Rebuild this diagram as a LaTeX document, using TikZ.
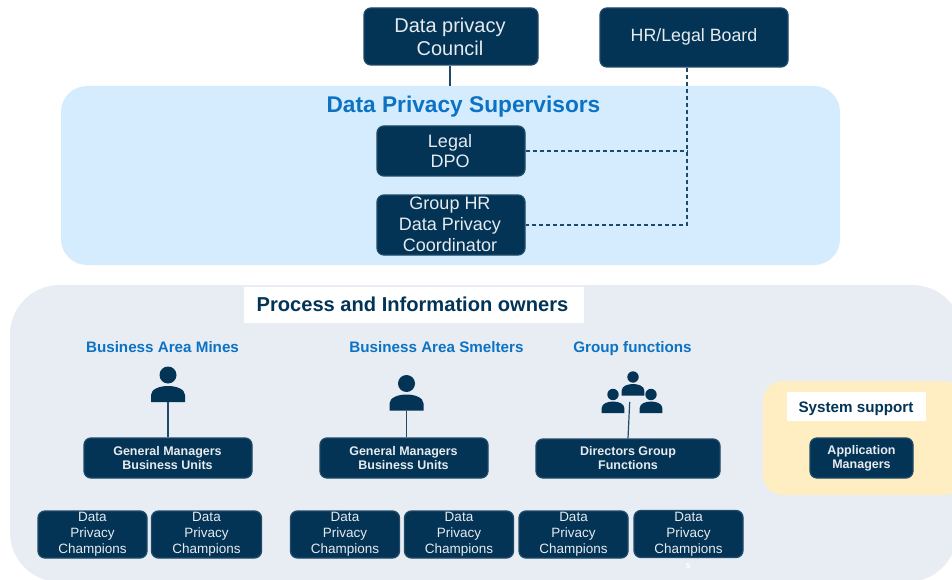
\documentclass[tikz,border=0pt]{standalone}
\usepackage{fontspec}
\setmainfont{Liberation Sans}
\definecolor{navy}{HTML}{033355}
\definecolor{navyedge}{HTML}{1F4A68}
\definecolor{bluepanel}{HTML}{D4ECFE}
\definecolor{greypanel}{HTML}{E8EDF4}
\definecolor{yellowpanel}{HTML}{FEEEC2}
\definecolor{titleblue}{HTML}{0B72C4}
\definecolor{boxtext}{HTML}{E6EBEF}
\tikzset{
  darkbox/.style={draw=navyedge,line width=1.3pt,fill=navy,text=boxtext,rounded corners=7pt,align=center,inner sep=0pt},
  boxlabel/.style={text=boxtext,align=center,inner sep=0pt},
  bigtxt/.style={boxlabel,font=\fontsize{20}{23.5}\selectfont},
  midtxt/.style={boxlabel,font=\fontsize{18}{20.8}\selectfont},
  smalltxt/.style={boxlabel,font=\fontsize{13.5}{16}\selectfont},
  boldtxt/.style={boxlabel,font=\fontsize{12.5}{14.2}\selectfont\bfseries},
  area/.style={font=\fontsize{15.2}{17}\selectfont\bfseries,text=titleblue,inner sep=0pt,anchor=base},
  whitebox/.style={fill=white,inner sep=0pt},
  solidlink/.style={draw=navyedge,line width=1.2pt},
  dashlink/.style={draw=navyedge,line width=1.1pt,dash pattern=on 4pt off 3pt},
  person/.pic={
    \fill[navy] (0,-11) circle (8.5);
    \fill[navy] (-17,16) -- (-17,9) .. controls (-17,3) and (-8,0) .. (0,0) .. controls (8,0) and (17,3) .. (17,9) -- (17,16) -- cycle;
  },
  smallperson/.pic={
    \fill[navy] (0,-7) circle (5.7);
    \fill[navy] (-11.3,11.5) -- (-11.3,6.5) .. controls (-11.3,2) and (-5,0) .. (0,0) .. controls (5,0) and (11.3,2) .. (11.3,6.5) -- (11.3,11.5) -- cycle;
  }
}
\begin{document}
\begin{tikzpicture}[x=1pt,y=-1pt]
\useasboundingbox (0,0) rectangle (952,580);
\begin{scope}
\clip (0,0) rectangle (952,580);
\fill[white] (0,0) rectangle (952,580);
\fill[bluepanel,rounded corners=26pt] (61,86) rectangle (840,265);
\fill[greypanel] (60,285) -- (912,285) .. controls (940,285) and (962,307) .. (962,335)
  -- (957,532) .. controls (957,560) and (935,582) .. (907,582)
  -- (60,582) .. controls (32,582) and (10,560) .. (10,532)
  -- (10,335) .. controls (10,307) and (32,285) .. (60,285) -- cycle;
\fill[yellowpanel,rounded corners=20pt] (763,381) rectangle (963,495);
\end{scope}
\node[darkbox,minimum width=174pt,minimum height=57pt] (council) at (451,36.5) {};
\node[darkbox,minimum width=188pt,minimum height=59pt] (board) at (694,37.5) {};
\node[darkbox,minimum width=148pt,minimum height=50pt] (dpo) at (451,151) {};
\node[darkbox,minimum width=148pt,minimum height=60pt] (coord) at (451,225) {};
\node[bigtxt] (counciltxt) at (450,37) {Data privacy\\Council};
\node[boxlabel,font=\fontsize{17.8}{21}\selectfont] (boardtxt) at (694,37) {HR/Legal Board};
\node[midtxt] (dpotxt) at (450,151) {Legal\\DPO};
\node[midtxt] (coordtxt) at (450,224.5) {Group HR\\Data Privacy\\Coordinator};
\coordinate (blueedge) at (450,86);
\draw[solidlink] (council.south -| blueedge) -- (blueedge);
\node[font=\fontsize{22.7}{26}\selectfont\bfseries,text=titleblue,inner sep=0pt] (suptitle) at (463.5,106.5) {Data Privacy Supervisors};
\coordinate (junction) at (687,225);
\draw[dashlink] (board.south -| junction) -- (junction) -- (coord.east);
\draw[dashlink] (dpo.east) -- (dpo.east -| junction);
\node[whitebox,minimum width=340pt,minimum height=36pt] (proctitlebox) at (414,305) {};
\node[font=\fontsize{20.1}{24}\selectfont\bfseries,text=navy,inner sep=0pt] (proctitle) at (412.5,304.5) {Process and Information owners};
\node[whitebox,minimum width=139pt,minimum height=29pt] (systitlebox) at (856.5,406.5) {};
\node[font=\fontsize{15.2}{17}\selectfont\bfseries,text=navy,inner sep=0pt,anchor=base] (systitle) at (856,412.5) {System support};
\node[area] (mines) at (162.5,352) {Business Area Mines};
\node[area] (smelters) at (436.5,352) {Business Area Smelters};
\node[area] (groupf) at (632.5,352) {Group functions};
\pic at (168,386) {person};
\pic at (406.5,394.5) {person};
\pic at (613,401.5) {smallperson};
\pic at (651,401.5) {smallperson};
\pic at (633,384) {smallperson};
\coordinate (p1) at (168,402);
\coordinate (p2) at (406.5,410.5);
\coordinate (p3) at (629.7,402);
\node[darkbox,minimum width=168pt,minimum height=40pt] (gm1) at (168,458) {};
\node[darkbox,minimum width=168pt,minimum height=40pt] (gm2) at (404,458) {};
\node[darkbox,minimum width=184pt,minimum height=39pt] (dir) at (628,458.5) {};
\node[darkbox,minimum width=103pt,minimum height=40pt] (app) at (861.5,458) {};
\draw[solidlink] (p1) -- (p1 |- gm1.north);
\draw[solidlink] (p2) -- (p2 |- gm2.north);
\draw[solidlink] (p3) -- (dir.north);
\node[boldtxt] (gm1txt) at (167.5,458) {General Managers\\Business Units};
\node[boldtxt] (gm2txt) at (403.5,458) {General Managers\\Business Units};
\node[boldtxt] (dirtxt) at (628,458) {Directors Group\\Functions};
\node[boldtxt] (apptxt) at (861.5,458) {Application\\Managers};
\foreach \nm/\cx/\cy/\w in {c1/92.5/534.5/109,c2/206.5/534.5/110,c3/345/534.5/109,c4/459/534.5/109,c5/573.5/534.5/109,c6/688.5/534/109}{
  \node[darkbox,minimum width=\w pt,minimum height=47pt] (\nm) at (\cx,\cy) {};
  \node[smalltxt] (\nm t) at (\cx,\cy) {Data\\Privacy\\Champions};
}
\node[font=\fontsize{9}{10}\selectfont\bfseries,text=white,inner sep=0pt] (stray) at (688,566) {s};
\end{tikzpicture}
\end{document}
